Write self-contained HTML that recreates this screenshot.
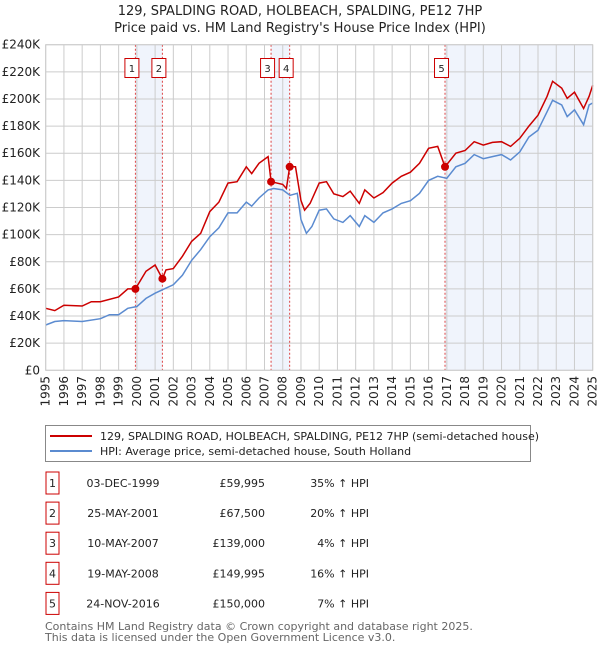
<!DOCTYPE html>
<html><head><meta charset="utf-8">
<style>
body{margin:0;background:#fff;font-family:"Liberation Sans","DejaVu Sans",sans-serif;}
svg text{font-family:"DejaVu Sans","Liberation Sans",sans-serif;}
</style></head>
<body>
<svg id="chart" width="600" height="650" xmlns="http://www.w3.org/2000/svg">
<text x="300" y="15" text-anchor="middle" font-size="13" fill="#222">129, SPALDING ROAD, HOLBEACH, SPALDING, PE12 7HP</text>
<text x="300" y="32" text-anchor="middle" font-size="13" fill="#222">Price paid vs. HM Land Registry's House Price Index (HPI)</text>
<g id="shade"></g><g id="grid"></g><g id="vlines"></g><g id="series"></g><g id="axes"></g>
<g>
<rect x="45.5" y="425.5" width="485" height="36" fill="#fff" stroke="#888"/>
<line x1="50" y1="436" x2="92" y2="436" stroke="#cc0000" stroke-width="2"/>
<text x="100" y="440" font-size="11" fill="#222">129, SPALDING ROAD, HOLBEACH, SPALDING, PE12 7HP (semi-detached house)</text>
<line x1="50" y1="451" x2="92" y2="451" stroke="#5b8bd0" stroke-width="2"/>
<text x="100" y="455" font-size="11" fill="#222">HPI: Average price, semi-detached house, South Holland</text>
</g>
<g id="table"></g>
<text x="45" y="630" font-size="11" fill="#666">Contains HM Land Registry data © Crown copyright and database right 2025.</text>
<text x="45" y="641" font-size="11" fill="#666">This data is licensed under the Open Government Licence v3.0.</text>
</svg>
<script>
const redYears=[1995,1995.5,1996,1997,1997.5,1998,1999,1999.5,1999.92,2000.5,2001,2001.4,2001.6,2002,2002.5,2003,2003.5,2004,2004.5,2005,2005.5,2006,2006.3,2006.7,2007.2,2007.36,2008,2008.2,2008.38,2008.7,2009,2009.2,2009.5,2010,2010.4,2010.8,2011.3,2011.7,2012.2,2012.5,2013,2013.5,2014,2014.5,2015,2015.5,2016,2016.5,2016.9,2017.5,2018,2018.5,2019,2019.5,2020,2020.5,2021,2021.5,2022,2022.5,2022.8,2023.3,2023.6,2024,2024.5,2024.8,2025];
const redValues=[45.7,44,48,47.4,50.6,50.6,54,60,60,73,77.6,67.5,74,75,84,95,101,117,124,138,139,150,145,152.6,157.5,139,137,134,150,150,125,118,123,138,139,130,128,132,123,133,127,131,138,143,146,152.6,163.6,165,150,160,162,168.5,166,168,168.5,165,171,180,188,202,213,208,200.5,205,193,202,210];
const hpiYears=[1995,1995.5,1996,1997,1998,1998.5,1999,1999.5,2000,2000.5,2001,2001.5,2002,2002.5,2003,2003.5,2004,2004.5,2005,2005.5,2006,2006.3,2006.7,2007.2,2007.5,2008,2008.4,2008.8,2009,2009.3,2009.6,2010,2010.4,2010.8,2011.3,2011.7,2012.2,2012.5,2013,2013.5,2014,2014.5,2015,2015.5,2016,2016.5,2017,2017.5,2018,2018.5,2019,2019.5,2020,2020.5,2021,2021.5,2022,2022.5,2022.8,2023.3,2023.6,2024,2024.5,2024.8,2025];
const hpiValues=[33.4,36,36.6,36,38,41,41,45.7,47,53,56.8,60,63,70,81,89,98.5,105,116,116,124,121,127,133,134,133,129,130.5,111,101,106,118,119,111.6,109,114,106,114,109,116,119,123,125,130.5,140,143,141.5,150,152.6,159,156,157.5,159,155,161,172,177,190.6,199,195.6,187,192,181,195.6,197];
const saleLabels=["1","2","3","4","5"];
const saleYears=[1999.92,2001.4,2007.36,2008.38,2016.9];
const salePrices=[59.995,67.5,139,149.995,150];
const saleDates=["03-DEC-1999","25-MAY-2001","10-MAY-2007","19-MAY-2008","24-NOV-2016"];
const salePriceText=["£59,995","£67,500","£139,000","£149,995","£150,000"];
const saleHpiText=["35% ↑ HPI","20% ↑ HPI","4% ↑ HPI","16% ↑ HPI","7% ↑ HPI"];
const yTicks=[0,20,40,60,80,100,120,140,160,180,200,220,240];
const xTicks=[1995,1996,1997,1998,1999,2000,2001,2002,2003,2004,2005,2006,2007,2008,2009,2010,2011,2012,2013,2014,2015,2016,2017,2018,2019,2020,2021,2022,2023,2024,2025];

const X0=45.7,X1=592.7,Y0=370.3,Y1=44.7;
const xs=y=>X0+(y-1995)/30*(X1-X0);
const ys=v=>Y0-v/240*(Y0-Y1);
const NS="http://www.w3.org/2000/svg";
function mk(tag,attrs,parent,txt){const e=document.createElementNS(NS,tag);for(const k in attrs)e.setAttribute(k,attrs[k]);if(txt!==undefined)e.textContent=txt;document.getElementById(parent).appendChild(e);return e;}

const shadePairs=[[0,1],[2,3]];
shadePairs.forEach(p=>{const r=mk('rect',{x:xs(saleYears[p[0]]),y:Y1,width:xs(saleYears[p[1]])-xs(saleYears[p[0]]),height:Y0-Y1,fill:'#f0f4fc'},'shade');

});
const r5=mk('rect',{x:xs(saleYears[4]),y:Y1,width:X1-xs(saleYears[4]),height:Y0-Y1,fill:'#f0f4fc'},'shade');



yTicks.forEach(t=>{const l=mk('line',{x1:X0,x2:X1,y1:ys(t),y2:ys(t),stroke:'#cccccc','stroke-width':1},'grid');


const tx=mk('text',{x:40,y:ys(t)+4,'text-anchor':'end','font-size':12,fill:'#222'},'axes','£'+(t===0?'0':t+'K'));

});
xTicks.forEach(t=>{const l=mk('line',{x1:xs(t),x2:xs(t),y1:Y1,y2:Y0,stroke:'#cccccc','stroke-width':1},'grid');


const tx=mk('text',{x:0,y:0,'text-anchor':'end','font-size':12,fill:'#222',transform:`translate(${xs(t)+4},376) rotate(-90)`},'axes',String(t));

});

saleYears.forEach((y,i)=>{const l=mk('line',{x1:xs(y),x2:xs(y),y1:Y1,y2:Y0,stroke:'#dd4444','stroke-width':1,'stroke-dasharray':'2,2'},'vlines');


const b=mk('rect',{x:xs(y)-10.5,y:58.5,width:14,height:19,fill:'#fff',stroke:'#cc0000'},'vlines');


const t=mk('text',{x:xs(y)-3.5,y:72,'text-anchor':'middle','font-size':10,fill:'#222'},'vlines',saleLabels[i]);

});

function path(xa,va){return xa.map((y,i)=>(i?'L':'M')+xs(y).toFixed(1)+','+ys(va[i]).toFixed(1)).join('');}
const hp=mk('path',{d:path(hpiYears,hpiValues),fill:'none',stroke:'#5b8bd0','stroke-width':1.5},'series');


const rp=mk('path',{d:path(redYears,redValues),fill:'none',stroke:'#cc0000','stroke-width':1.5},'series');


saleYears.forEach((y,i)=>{const c=mk('circle',{cx:xs(y),cy:ys(salePrices[i]),r:4,fill:'#cc0000'},'series');

});
mk('rect',{x:X0,y:Y1,width:X1-X0,height:Y0-Y1,fill:'none',stroke:'#cccccc'},'axes');

saleLabels.forEach((s,i)=>{const cy=483+i*30.1;
const b=mk('rect',{x:46,y:cy-11,width:13,height:22,fill:'#fff',stroke:'#cc0000'},'table');


const t=mk('text',{x:52.5,y:cy+4,'text-anchor':'middle','font-size':11,fill:'#222'},'table',s);


const d=mk('text',{x:123,y:cy+4,'text-anchor':'middle','font-size':11,fill:'#222'},'table',saleDates[i]);


const p=mk('text',{x:265,y:cy+4,'text-anchor':'end','font-size':11,fill:'#222'},'table',salePriceText[i]);


const h=mk('text',{x:369,y:cy+4,'text-anchor':'end','font-size':11,fill:'#222'},'table',saleHpiText[i]);

});
</script>
</body></html>
